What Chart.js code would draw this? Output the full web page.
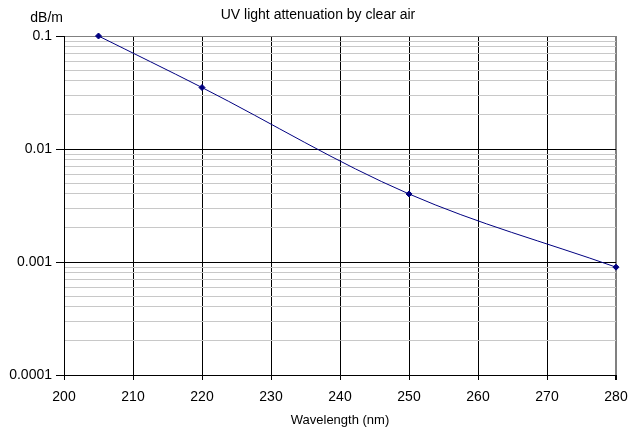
<!DOCTYPE html>
<html>
<head>
<meta charset="utf-8">
<script src="https://cdn.jsdelivr.net/npm/chart.js@4/dist/chart.umd.min.js"></script>
<style>
  html, body { margin: 0; padding: 0; background: #fff; }
  #wrap { width: 630px; height: 429px; position: relative; }
</style>
</head>
<body>
<div id="wrap"><canvas id="c"></canvas></div>
<script>
// ---- data ----
const wavelengths = [205, 220, 250, 280];          // nm
const attenuation = [0.1, 0.035, 0.004, 0.0009];   // dB/m
const yTickLabels = ['0.0001', '0.001', '0.01', '0.1'];
const xMin = 200, xMax = 280, xStep = 10;
const yMin = 0.0001, yMax = 0.1;
const chartTitle = 'UV light attenuation by clear air';
const yUnit = 'dB/m';
const xTitle = 'Wavelength (nm)';

const FONT = "'Liberation Sans', Arial, sans-serif";

const points = wavelengths.map((w, i) => ({ x: w, y: attenuation[i] }));

function isDecade(v) {
  const l = Math.log10(v);
  return Math.abs(l - Math.round(l)) < 1e-6;
}

const textPlugin = {
  id: 'texts',
  afterDraw(chart) {
    const ctx = chart.ctx;
    ctx.save();
    ctx.fillStyle = '#000';
    ctx.font = '14px ' + FONT;
    ctx.textBaseline = 'middle';
    ctx.textAlign = 'center';
    ctx.fillText(chartTitle, 318, 15);
    ctx.textAlign = 'right';
    ctx.fillText(yUnit, 63, 18);
    ctx.restore();
  }
};

new Chart(document.getElementById('c'), {
  type: 'scatter',
  data: {
    datasets: [{
      data: points,
      showLine: true,
      borderColor: '#000080',
      borderWidth: 1,
      backgroundColor: '#000080',
      pointBackgroundColor: '#000080',
      pointBorderColor: '#000080',
      pointStyle: 'rectRot',
      pointRadius: 3,
      pointBorderWidth: 1,
      tension: 0.35,
      clip: false
    }]
  },
  options: {
    responsive: true,
    maintainAspectRatio: false,
    animation: false,
    layout: { padding: { left: 0, right: 14, top: 36, bottom: 0 } },
    plugins: {
      legend: { display: false },
      tooltip: { enabled: false },
      title: { display: false }
    },
    scales: {
      x: {
        type: 'linear',
        min: xMin, max: xMax,
        ticks: {
          stepSize: xStep,
          color: '#000',
          font: { family: FONT, size: 14 },
          padding: 9,
          maxRotation: 0
        },
        grid: {
          color: c => (c.tick && c.tick.value === xMax) ? '#808080' : '#000',
          lineWidth: c => (c.tick && c.tick.value === xMax) ? 2 : 1,
          tickColor: '#000',
          tickLength: 5,
          drawTicks: true
        },
        border: { color: '#000', width: 1 },
        title: {
          display: true,
          text: xTitle,
          color: '#000',
          font: { family: FONT, size: 13 },
          padding: { top: 0, bottom: 1 }
        },
        afterFit(scale) {
          scale.height = 54;
          scale.paddingLeft = 0;
          scale.paddingRight = 0;
        }
      },
      y: {
        type: 'logarithmic',
        min: yMin, max: yMax,
        afterBuildTicks(scale) {
          const ticks = [];
          const e0 = Math.round(Math.log10(yMin));
          const e1 = Math.round(Math.log10(yMax));
          for (let e = e0; e <= e1; e++) {
            for (let k = 1; k <= 9; k++) {
              const v = k * Math.pow(10, e);
              if (v > yMax * 1.0000001) break;
              ticks.push({ value: v, major: k === 1 });
            }
          }
          scale.ticks = ticks;
        },
        ticks: {
          autoSkip: false,
          color: '#000',
          font: { family: FONT, size: 14 },
          padding: 4,
          callback(v) {
            if (!isDecade(v)) return '';
            const e = Math.round(Math.log10(v));
            const idx = e - Math.round(Math.log10(yMin));
            return yTickLabels[idx];
          }
        },
        grid: {
          color: c => {
            const v = c.tick ? c.tick.value : 0;
            if (isDecade(v)) return Math.abs(v - yMax) < 1e-9 ? '#808080' : '#000';
            return '#c8c8c8';
          },
          lineWidth: 1,
          tickColor: c => (c.tick && isDecade(c.tick.value)) ? '#000' : 'rgba(0,0,0,0)',
          tickLength: 8
        },
        border: { color: '#000', width: 1 },
        afterFit(scale) {
          scale.width = 64;
          scale.paddingTop = 0;
          scale.paddingBottom = 0;
        }
      }
    }
  },
  plugins: [textPlugin]
});
</script>
</body>
</html>
